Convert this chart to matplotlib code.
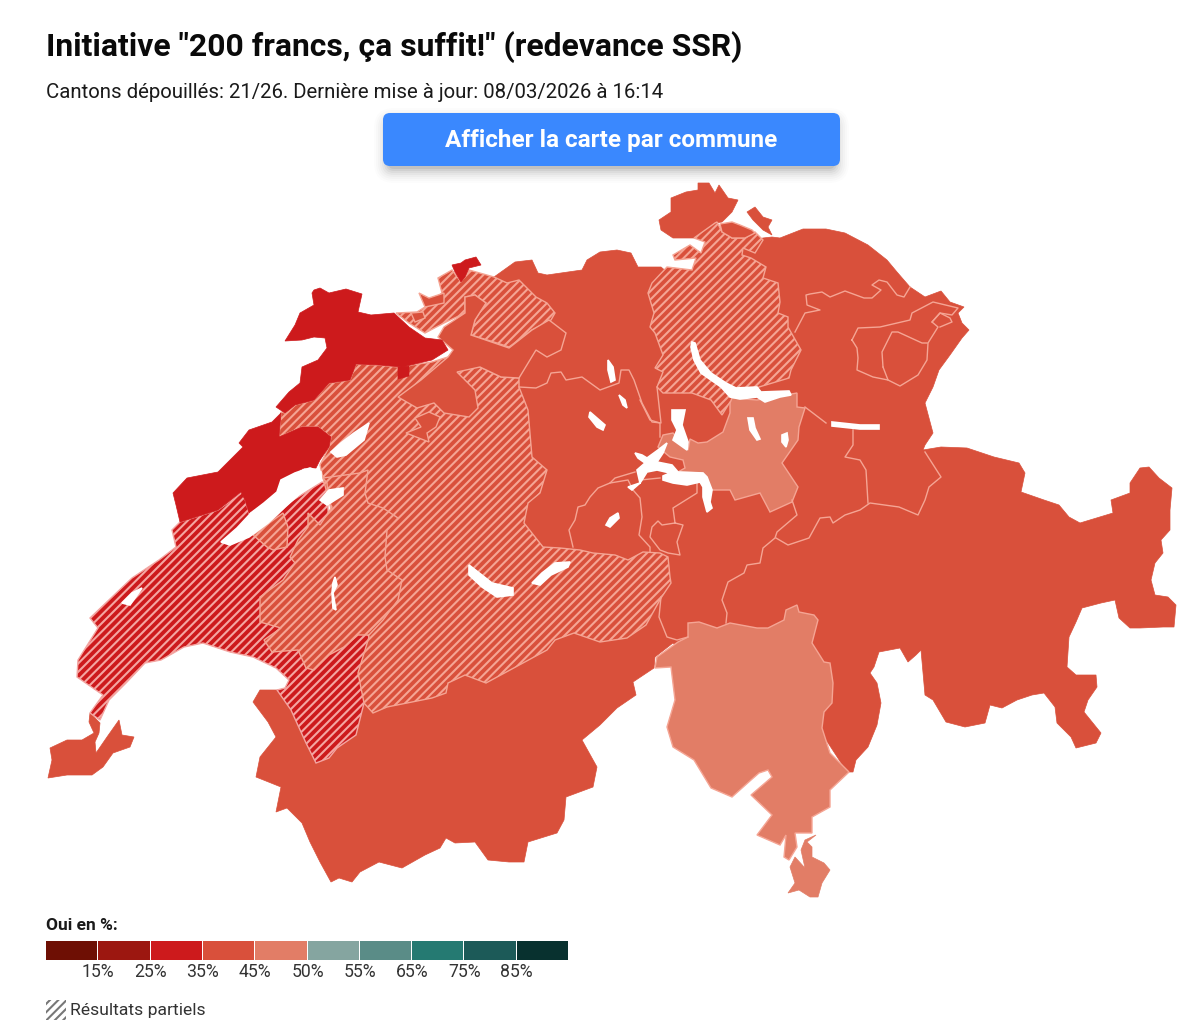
import matplotlib
matplotlib.use('Agg')
import matplotlib.pyplot as plt
from matplotlib.patches import Polygon, Rectangle, FancyBboxPatch

plt.rcParams['font.family'] = ['Roboto', 'DejaVu Sans']
plt.rcParams['hatch.linewidth'] = 1.5

# colour scale of the legend
legend_colors = ['#6e0f04', '#9c1710', '#cd1a1c', '#d9503b', '#e27d66',
                 '#85a5a0', '#5a8c87', '#257a72', '#1c5a58', '#08312f']
legend_labels = ['15%', '25%', '35%', '45%', '50%', '55%', '65%', '75%', '85%']

# canton outlines in pixels
solid_base = [(494, 277), (515, 262), (532, 260), (538, 273), (547, 275), (582, 270), (587, 260), (600, 252),
              (617, 250), (631, 253), (638, 267), (661, 267), (700, 300), (735, 245), (763, 238), (772, 237),
              (780, 238), (803, 229),
              (826, 229), (845, 233), (868, 245), (887, 260), (897, 272), (910, 287), (925, 297), (941, 291),
              (950, 302), (964, 307), (958, 313), (962, 323), (969, 330), (962, 338), (950, 355), (939, 370),
              (933, 387), (925, 403), (933, 433), (925, 445), (923, 450), (941, 447), (967, 448), (994, 457),
              (1019, 463), (1025, 473), (1021, 492), (1044, 500), (1059, 505), (1069, 517), (1080, 523),
              (1113, 513), (1111, 500), (1130, 493), (1130, 483), (1140, 468), (1149, 467), (1159, 478),
              (1172, 488), (1170, 510), (1170, 530), (1161, 540), (1163, 553), (1155, 563), (1151, 580),
              (1155, 595), (1168, 597), (1176, 605), (1174, 627), (1163, 627), (1140, 628), (1130, 628),
              (1119, 618), (1115, 600), (1101, 603), (1082, 608), (1076, 622), (1069, 637), (1067, 667),
              (1076, 675), (1096, 675), (1097, 687), (1088, 700), (1084, 712), (1101, 733), (1096, 743),
              (1076, 748), (1071, 737), (1057, 723), (1055, 707), (1044, 693), (1032, 695), (1017, 700),
              (1002, 708), (990, 705), (985, 723), (965, 727), (946, 722), (933, 700), (925, 695), (921, 650),
              (916, 655), (908, 662), (900, 648), (879, 652), (874, 667), (870, 673), (877, 683), (881, 703),
              (877, 725), (868, 747), (856, 760), (853, 772), (847, 772), (800, 700), (690, 660), (673, 643),
              (655, 657), (654, 668), (633, 682), (636, 695), (617, 708), (600, 725), (582, 740), (597, 767),
              (593, 787), (566, 797), (564, 820), (557, 833), (528, 842), (524, 862), (509, 862), (488, 860),
              (475, 842), (455, 843), (446, 838), (440, 848), (425, 855), (402, 868), (379, 862), (360, 872),
              (352, 882), (339, 878), (331, 882), (320, 862), (310, 842), (302, 823), (287, 808), (276, 812),
              (281, 787), (256, 777), (260, 757), (276, 737), (268, 722), (253, 702), (260, 690), (277, 690),
              (300, 690), (480, 330)]
schaffhausen = [(698, 183), (709, 183), (715, 193), (719, 185), (728, 198), (738, 200), (732, 212), (722, 222),
                (715, 223), (694, 238), (673, 238), (661, 230), (659, 220), (671, 212), (671, 198), (686, 192),
                (698, 190)]
schaffhausen_east = [(747, 212), (755, 207), (763, 217), (772, 220), (768, 227), (772, 235), (763, 230), (753, 220)]
stein = [(720, 224), (732, 222), (740, 225), (752, 230), (755, 233), (745, 238), (732, 238), (722, 232)]
geneve = [(90, 713), (100, 723), (99, 733), (95, 742), (96, 753), (107, 737), (119, 720), (122, 735), (134, 737),
          (130, 747), (113, 753), (103, 767), (92, 775), (67, 775), (48, 778), (52, 760), (50, 748), (67, 740),
          (82, 740), (94, 733), (89, 722)]
solothurn = [(444, 327), (465, 313), (465, 297), (475, 295), (486, 303), (475, 320), (471, 335), (509, 348),
             (532, 330), (549, 320), (566, 333), (561, 350), (547, 357), (536, 350), (519, 378), (501, 377),
             (480, 367), (457, 372), (475, 390), (478, 408), (469, 417), (444, 413), (434, 403), (417, 408),
             (398, 397), (421, 380), (448, 357), (453, 350), (438, 337)]
solothurn_south = [(429, 412), (440, 417), (436, 427), (427, 433), (429, 442), (406, 433), (421, 427), (415, 418)]
solothurn_north = [(419, 293), (429, 298), (444, 293), (444, 303), (425, 307)]
solothurn_west = [(411, 313), (423, 312), (425, 318), (415, 322)]

jura = [(314, 290), (320, 288), (329, 293), (346, 289), (362, 294), (358, 312), (371, 315), (394, 313), (409, 327),
        (425, 338), (442, 340), (448, 350), (432, 360), (402, 367), (379, 365), (356, 364), (350, 380), (329, 383),
        (314, 400), (295, 405), (285, 413), (276, 407), (289, 392), (300, 383), (302, 367), (318, 360), (327, 348),
        (325, 338), (314, 337), (302, 340), (285, 341), (295, 325), (300, 313), (314, 305), (312, 293)]
jura_spot = [(398, 367), (409, 366), (409, 376), (398, 379)]
neuchatel = [(281, 413), (279, 437), (302, 427), (318, 427), (331, 437), (329, 447), (320, 460), (316, 468),
             (304, 468), (281, 480), (277, 492), (264, 503), (249, 513), (245, 500), (241, 492), (218, 510),
             (180, 522), (176, 505), (173, 493), (187, 478), (218, 472), (233, 457), (243, 447), (239, 443),
             (249, 430), (272, 422)]
basel_city = [(452, 265), (461, 263), (465, 260), (476, 257), (481, 265), (469, 268), (465, 277), (461, 282), (455, 272)]

vaud = [(180, 522), (218, 510), (243, 492), (249, 513), (253, 525), (322, 482), (327, 483), (330, 560), (369, 637),
        (364, 703), (356, 735), (337, 748), (329, 758), (316, 763), (306, 743), (291, 710), (277, 690), (285, 688),
        (289, 680), (276, 668), (253, 657), (230, 652), (203, 643), (184, 647), (161, 660), (145, 663), (126, 683),
        (109, 700), (100, 720), (90, 713), (103, 695), (77, 677), (78, 660), (98, 628), (90, 618), (132, 578),
        (159, 560), (176, 547), (172, 530)]
bern = [(281, 412), (285, 413), (295, 405), (314, 400), (329, 383), (350, 380), (356, 364), (379, 365), (398, 367),
        (432, 362), (448, 357), (480, 367), (501, 377), (519, 378), (519, 387), (528, 410), (532, 457), (547, 470),
        (540, 493), (528, 503), (524, 523), (543, 547), (560, 548), (580, 550), (593, 553), (615, 555), (628, 560),
        (643, 552), (660, 553), (668, 557), (670, 577), (671, 583), (661, 598), (646, 625), (627, 638), (600, 642),
        (574, 633), (555, 640), (547, 650), (486, 683), (465, 675), (448, 683), (446, 693), (432, 698), (387, 707),
        (373, 713), (364, 703), (358, 673), (369, 637), (355, 600), (323, 478), (320, 465), (329, 447), (331, 437),
        (318, 427), (302, 427), (279, 437)]
basel_land = [(396, 313), (417, 312), (425, 307), (442, 293), (438, 278), (452, 270), (461, 282), (469, 270),
              (494, 277), (507, 283), (519, 280), (536, 297), (547, 303), (555, 313), (551, 320), (532, 330),
              (509, 347), (497, 343), (471, 335), (475, 320), (486, 303), (475, 295), (465, 297), (465, 313),
              (444, 323), (425, 333), (409, 323)]
fribourg = [(323, 478), (360, 473), (368, 470), (365, 493), (368, 503), (383, 508), (398, 518), (387, 530),
            (385, 557), (387, 570), (402, 580), (398, 600), (383, 620), (369, 635), (358, 635), (344, 647),
            (329, 655), (314, 670), (306, 668), (298, 650), (272, 652), (264, 640), (281, 628), (260, 622),
            (260, 597), (279, 583), (283, 580), (295, 563), (290, 557), (298, 540), (308, 527), (308, 513),
            (320, 525), (332, 507), (328, 500), (327, 483)]
fribourg_enclave = [(253, 535), (283, 513), (288, 527), (287, 547), (273, 550), (267, 547)]
zurich = [(717, 222), (722, 232), (732, 238), (745, 238), (755, 232), (763, 240), (755, 253), (743, 248), (742, 255),
          (751, 258), (766, 267), (763, 278), (778, 283), (780, 302), (778, 313), (788, 317), (788, 327), (801, 350),
          (791, 370), (789, 378), (759, 387), (730, 402), (722, 415), (711, 400), (692, 393), (663, 393), (657, 387),
          (663, 372), (655, 368), (663, 355), (655, 333), (650, 327), (654, 313), (648, 293), (652, 283), (667, 267),
          (692, 270), (696, 258), (675, 260), (673, 255), (690, 245), (701, 253), (705, 242), (694, 238), (715, 223)]

schwyz = [(730, 403), (732, 398), (757, 400), (797, 393), (797, 407), (805, 408), (799, 427), (798, 440), (782, 463),
          (798, 487), (792, 502), (770, 512), (760, 493), (735, 500), (730, 490), (712, 490), (703, 473), (678, 472),
          (685, 468), (683, 460), (670, 457), (658, 447), (663, 435), (673, 433), (688, 450), (690, 439), (698, 443),
          (707, 442), (723, 432), (730, 413)]
ticino = [(688, 623), (699, 622), (717, 628), (730, 623), (757, 628), (768, 628), (784, 620), (786, 610), (797, 605),
          (799, 612), (814, 615), (818, 620), (812, 643), (824, 662), (830, 663), (833, 683), (832, 703), (824, 712),
          (822, 728), (830, 753), (849, 772), (830, 790), (830, 807), (812, 817), (812, 833), (795, 833), (797, 847),
          (789, 860), (784, 857), (786, 835), (780, 845), (757, 835), (772, 815), (751, 795), (772, 777), (768, 770),
          (759, 773), (751, 780), (732, 797), (711, 788), (694, 760), (673, 747), (667, 727), (675, 700), (671, 667),
          (655, 668), (657, 657), (678, 642), (688, 637)]
ticino_south = [(816, 835), (805, 840), (801, 850), (805, 868), (795, 857), (790, 867), (795, 883), (788, 893),
                (799, 890), (810, 897), (818, 897), (822, 883), (830, 870), (824, 863), (812, 857), (812, 847),
                (807, 842)]

# inner borders between cantons that share a colour
borders = [
    [(519, 387), (536, 388), (547, 383), (551, 373), (561, 372), (566, 380), (582, 377), (600, 390), (619, 383),
     (621, 370), (629, 370), (634, 380), (642, 403), (652, 422), (661, 423), (657, 387)],
    [(640, 400), (650, 420), (660, 423), (660, 437)],
    [(573, 547), (569, 530), (575, 520), (578, 507), (585, 505), (590, 497), (598, 488), (610, 483), (628, 480),
     (633, 490), (640, 498), (642, 517), (639, 535), (650, 547), (650, 552)],
    [(610, 483), (615, 478), (635, 472)],
    [(640, 480), (660, 478)],
    [(697, 482), (697, 493), (673, 508), (675, 523), (662, 525), (658, 521), (652, 527), (650, 537), (660, 550),
     (668, 553), (680, 555), (677, 542), (683, 525), (675, 523)],
    [(792, 500), (797, 515), (777, 532), (775, 538), (763, 548), (760, 563), (747, 565), (744, 573), (728, 582),
     (722, 600), (727, 613), (726, 623)],
    [(776, 538), (788, 545), (809, 538), (820, 518), (830, 517), (833, 523), (845, 515), (860, 510), (870, 503),
     (899, 507), (918, 515), (925, 500), (929, 487), (941, 477), (925, 452)],
    [(868, 503), (866, 470), (860, 460), (845, 457), (853, 445), (853, 430)],
    [(805, 407), (826, 423)],
    [(661, 597), (659, 617), (667, 637), (677, 640), (688, 637)],
    [(795, 332), (805, 313), (820, 310), (807, 305), (806, 295), (810, 294), (822, 292), (830, 297), (845, 291),
     (864, 298), (872, 298), (881, 290), (872, 285), (879, 280), (887, 282), (897, 295), (904, 297), (910, 287)],
    [(852, 340), (858, 328), (880, 327), (910, 320), (912, 313), (933, 302), (958, 308), (952, 315), (940, 313),
     (932, 322), (938, 327), (928, 343), (927, 360), (918, 375), (900, 386), (888, 380), (873, 377), (857, 370),
     (858, 358), (857, 348), (852, 340)],
    [(883, 367), (882, 352), (892, 332), (898, 332), (922, 343), (927, 343)],
    [(883, 367), (888, 380)],
    [(932, 322), (940, 313), (950, 318), (952, 322), (940, 327)],
]

lakes = [
    [(310, 468), (321, 472), (321, 478), (302, 492), (285, 507), (268, 523), (249, 537), (230, 545), (221, 542),
     (237, 528), (251, 513), (264, 503), (277, 492), (281, 480), (295, 473)],
    [(369, 423), (364, 440), (346, 455), (337, 457), (331, 452), (341, 443), (354, 433)],
    [(343, 488), (343, 495), (327, 505), (320, 500), (329, 490)],
    [(142, 588), (130, 605), (122, 603), (132, 593)],
    [(335, 577), (337, 585), (333, 593), (336, 610), (333, 608), (332, 593), (333, 583)],
    [(469, 565), (478, 572), (492, 583), (513, 588), (513, 595), (497, 597), (482, 587), (469, 575)],
    [(570, 562), (568, 567), (551, 575), (540, 585), (532, 583), (542, 573), (555, 563)],
    [(590, 412), (605, 425), (603, 430), (597, 427), (589, 417)],
    [(608, 360), (613, 367), (615, 380), (611, 382), (608, 370)],
    [(619, 395), (625, 400), (627, 408), (623, 405)],
    [(672, 410), (685, 410), (682, 425), (688, 442), (687, 450), (673, 440), (677, 430), (672, 420)],
    [(635, 453), (642, 455), (647, 458), (658, 450), (667, 443), (663, 453), (657, 462), (672, 465), (678, 472),
     (703, 473), (707, 477), (712, 490), (710, 502), (712, 508), (707, 512), (703, 497), (703, 487), (700, 482),
     (687, 485), (673, 483), (663, 480), (663, 476), (670, 473), (657, 470), (647, 472), (642, 480), (640, 483),
     (632, 490), (628, 487), (640, 483), (637, 470), (645, 463), (638, 458)],
    [(618, 513), (619, 518), (610, 527), (606, 525), (610, 518)],
    [(692, 342), (695, 343), (700, 360), (711, 373), (726, 383), (736, 388), (757, 387), (761, 392), (789, 391),
     (791, 395), (780, 397), (765, 402), (757, 397), (740, 399), (730, 397), (721, 387), (701, 373), (694, 360),
     (691, 347)],
    [(832, 422), (860, 425), (879, 425), (879, 429), (860, 429), (832, 426)],
    [(748, 418), (753, 418), (755, 428), (760, 439), (757, 440), (750, 430)],
    [(782, 435), (787, 433), (788, 440), (786, 447), (782, 442)],
]

c_red = legend_colors[2]
c_mid = legend_colors[3]
c_light = legend_colors[4]
c_line = '#f5a594'
c_line_red = '#f4a6a2'
stripes = '////'

fig = plt.figure(figsize=(12, 10.24), dpi=100)
ax = fig.add_axes([0, 0, 1, 1])
ax.set_xlim(0, 1200)
ax.set_ylim(1024, 0)
ax.axis('off')

for shape in [solid_base, schaffhausen, schaffhausen_east, geneve]:
    ax.add_patch(Polygon(shape, facecolor=c_mid, edgecolor=c_mid, lw=0.5))

ax.add_patch(Polygon(vaud, facecolor=c_red, edgecolor=c_line_red, lw=1, hatch=stripes))
for shape in [bern, basel_land, fribourg, fribourg_enclave, zurich]:
    ax.add_patch(Polygon(shape, facecolor=c_mid, edgecolor=c_line, lw=1, hatch=stripes))

for shape in [solothurn, solothurn_south, solothurn_north, solothurn_west, stein]:
    ax.add_patch(Polygon(shape, facecolor=c_mid, edgecolor=c_line, lw=1))
for shape in [jura, jura_spot, neuchatel, basel_city]:
    ax.add_patch(Polygon(shape, facecolor=c_red, edgecolor=c_red, lw=0.5))
for shape in [schwyz, ticino]:
    ax.add_patch(Polygon(shape, facecolor=c_light, edgecolor=c_line, lw=1))
ax.add_patch(Polygon(ticino_south, facecolor=c_light, edgecolor=c_light, lw=0.5))

for line in borders:
    ax.plot([p[0] for p in line], [p[1] for p in line], color=c_line, lw=1, solid_joinstyle='round')

for lake in lakes:
    ax.add_patch(Polygon(lake, facecolor='white', edgecolor='white', lw=1.2, zorder=5))

# header
ax.text(46, 47, 'Initiative "200 francs, ça suffit!" (redevance SSR)', fontsize=22.95, fontweight='bold',
        color='#0a0a0a', va='center')
ax.text(46, 93, 'Cantons dépouillés: 21/26. Dernière mise à jour: 08/03/2026 à 16:14', fontsize=14.7,
        color='#1a1a1a', va='center')

# button with its soft shadow
for grow, alpha in [(14, 0.012), (12, 0.016), (10, 0.02), (8, 0.025), (6, 0.03), (4, 0.04), (2, 0.05), (0, 0.07)]:
    ax.add_patch(FancyBboxPatch((388 - grow, 122 - grow), 447 + 2 * grow, 47 + 2 * grow,
                                boxstyle='round,pad=0,rounding_size=%d' % (6 + grow),
                                facecolor='black', edgecolor='none', alpha=alpha))
ax.add_patch(FancyBboxPatch((383, 113), 457, 53, boxstyle='round,pad=0,rounding_size=7',
                            facecolor='#3a88fe', edgecolor='none'))
ax.text(611, 141, 'Afficher la carte par commune', fontsize=17.45, fontweight='bold', color='white',
        ha='center', va='center')

# legend
ax.text(46, 925, 'Oui en %:', fontsize=12.5, fontweight='bold', color='#1a1a1a', va='center')
box_w = (569 - 46) / len(legend_colors)
for i, col in enumerate(legend_colors):
    ax.add_patch(Rectangle((46 + i * box_w, 941), box_w - 1, 19, facecolor=col, edgecolor='none'))
for i, label in enumerate(legend_labels):
    ax.text(46 + (i + 1) * box_w, 972, label, fontsize=12.7, color='#333333', ha='center', va='center')

ax.add_patch(Rectangle((46, 1000), 20, 20, facecolor='white', edgecolor='#777777', hatch=stripes, lw=0))
ax.text(70, 1010, 'Résultats partiels', fontsize=12.6, color='#333333', va='center')

fig.savefig('out.png', dpi=100)
